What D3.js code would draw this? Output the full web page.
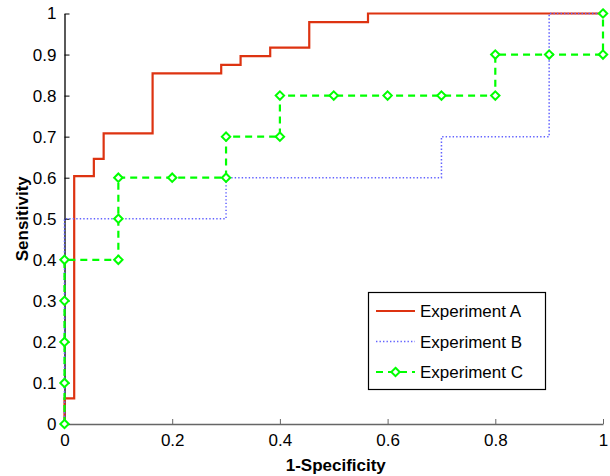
<!DOCTYPE html>
<html>
<head>
<meta charset="utf-8">
<script src="https://cdn.jsdelivr.net/npm/d3@7"></script>
<style>
  html, body { margin: 0; padding: 0; background: #fff; }
  svg { display: block; font-family: "Liberation Sans", Arial, Helvetica, sans-serif; }
</style>
</head>
<body>
<svg id="chart" width="610" height="476"></svg>
<script>
// ---- data ----
const seriesNames = ["Experiment A", "Experiment B", "Experiment C"];

const expA_fpr = [0, 0, 0.018, 0.018, 0.0545, 0.0545, 0.0727, 0.0727, 0.1636, 0.1636, 0.291, 0.291, 0.327, 0.327, 0.382, 0.382, 0.4545, 0.4545, 0.5636, 0.5636, 1];
const expA_tpr = [0, 0.0625, 0.0625, 0.604, 0.604, 0.646, 0.646, 0.708, 0.708, 0.854, 0.854, 0.875, 0.875, 0.896, 0.896, 0.917, 0.917, 0.979, 0.979, 1, 1];

const expB_fpr = [0, 0, 0.3, 0.3, 0.7, 0.7, 0.9, 0.9, 1];
const expB_tpr = [0, 0.5, 0.5, 0.6, 0.6, 0.7, 0.7, 1, 1];

const expC_fpr = [0, 0, 0, 0, 0, 0.1, 0.1, 0.1, 0.2, 0.3, 0.3, 0.4, 0.4, 0.5, 0.6, 0.7, 0.8, 0.8, 0.9, 1, 1];
const expC_tpr = [0, 0.1, 0.2, 0.3, 0.4, 0.4, 0.5, 0.6, 0.6, 0.6, 0.7, 0.7, 0.8, 0.8, 0.8, 0.8, 0.8, 0.9, 0.9, 0.9, 1];

const xTicks = [0, 0.2, 0.4, 0.6, 0.8, 1];
const yTicks = [0, 0.1, 0.2, 0.3, 0.4, 0.5, 0.6, 0.7, 0.8, 0.9, 1];
const xLabel = "1-Specificity";
const yLabel = "Sensitivity";

// ---- drawing ----
const svg = d3.select("#chart");
const x = d3.scaleLinear().domain([0, 1]).range([64.5, 603]);
const y = d3.scaleLinear().domain([0, 1]).range([424, 13.5]);

const fmt = d => (d === 0 || d === 1) ? String(d) : d3.format(".1f")(d);

// axes
const xAxis = svg.append("g").attr("transform", `translate(0,${y(0)})`)
  .call(d3.axisBottom(x).tickValues(xTicks).tickFormat(fmt).tickSizeInner(-5).tickSizeOuter(0).tickPadding(10));
xAxis.select(".domain").attr("stroke", "#666").attr("stroke-width", 1.3);
xAxis.selectAll(".tick line").attr("stroke", "#666");
xAxis.selectAll("text").attr("font-size", 17).attr("fill", "#000").attr("font-family", "Liberation Sans, Arial, sans-serif");

const yAxis = svg.append("g").attr("transform", `translate(${x(0)},0)`)
  .call(d3.axisLeft(y).tickValues(yTicks).tickFormat(fmt).tickSizeInner(-5).tickSizeOuter(0).tickPadding(8));
yAxis.select(".domain").attr("stroke", "#000").attr("stroke-width", 1.3);
yAxis.selectAll(".tick line").attr("stroke", "#000");
yAxis.selectAll("text").attr("font-size", 17).attr("fill", "#000").attr("font-family", "Liberation Sans, Arial, sans-serif");

// axis titles
svg.append("text").attr("x", (x(0) + x(1)) / 2 + 2).attr("y", 471)
  .attr("text-anchor", "middle").attr("font-size", 17).attr("font-weight", "bold").text(xLabel);
svg.append("text").attr("transform", `translate(28,${(y(0) + y(1)) / 2}) rotate(-90)`)
  .attr("text-anchor", "middle").attr("font-size", 17).attr("font-weight", "bold").text(yLabel);

const line = d3.line().x(d => x(d[0])).y(d => y(d[1]));
const zip = (a, b) => a.map((v, i) => [v, b[i]]);

const dataA = zip(expA_fpr, expA_tpr);
const dataB = zip(expB_fpr, expB_tpr);
const dataC = zip(expC_fpr, expC_tpr);

const styles = [
  { color: "#dd3311", width: 2.2, dash: null },
  { color: "#6262ff", width: 1.5, dash: "1.4,2.1" },
  { color: "#00ff00", width: 2.2, dash: "7,5" }
];

const plot = svg.append("g");
plot.append("path").datum(dataA).attr("d", line).attr("fill", "none")
  .attr("stroke", styles[0].color).attr("stroke-width", styles[0].width);
plot.append("path").datum(dataB).attr("d", line).attr("fill", "none")
  .attr("stroke", styles[1].color).attr("stroke-width", styles[1].width).attr("stroke-dasharray", styles[1].dash);
plot.append("path").datum(dataC).attr("d", line).attr("fill", "none")
  .attr("stroke", styles[2].color).attr("stroke-width", styles[2].width).attr("stroke-dasharray", styles[2].dash);

const diamond = (cx, cy, r) => `M${cx},${cy - r}L${cx + r},${cy}L${cx},${cy + r}L${cx - r},${cy}Z`;
plot.selectAll("path.mk").data(dataC).enter().append("path").attr("class", "mk")
  .attr("d", d => diamond(x(d[0]), y(d[1]), 4.2))
  .attr("fill", "#fff").attr("stroke", styles[2].color).attr("stroke-width", 2);

// legend
const lg = svg.append("g");
lg.append("rect").attr("x", 368.5).attr("y", 292.5).attr("width", 177).attr("height", 97)
  .attr("fill", "#fff").attr("stroke", "#000").attr("stroke-width", 1.2);
const rowY = [311, 341.5, 372];
seriesNames.forEach((name, i) => {
  const s = styles[i];
  lg.append("line").attr("x1", 376).attr("x2", 415).attr("y1", rowY[i]).attr("y2", rowY[i])
    .attr("stroke", s.color).attr("stroke-width", s.width).attr("stroke-dasharray", s.dash);
  if (i === 2) {
    lg.append("path").attr("d", diamond(395.5, rowY[i], 4.2))
      .attr("fill", "#fff").attr("stroke", s.color).attr("stroke-width", 2);
  }
  lg.append("text").attr("x", 420).attr("y", rowY[i] + 6).attr("font-size", 17).text(name);
});
</script>
</body>
</html>
